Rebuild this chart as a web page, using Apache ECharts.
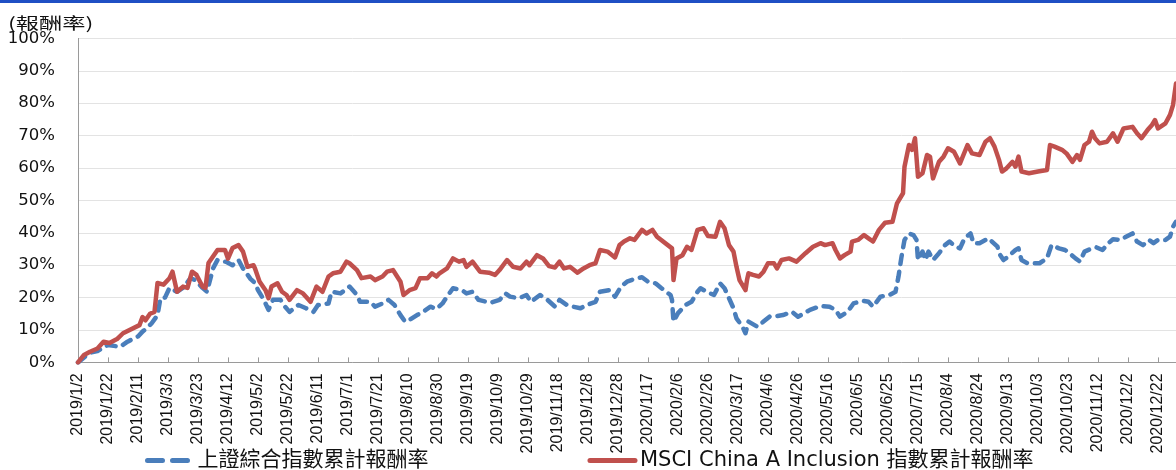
<!DOCTYPE html>
<html><head><meta charset="utf-8">
<script src="https://cdn.jsdelivr.net/npm/echarts@6/dist/echarts.min.js"></script>
<style>html,body{margin:0;padding:0;background:#fff}#c{width:1176px;height:470px}</style>
</head><body><div id="c"></div>
<script>
// x axis: calendar days from 2019/1/2 (labels every 20 days)
const startYear = 2019, startMonth = 0, startDay = 2, dayCount = 733;
const categories = [];
for (let i = 0; i < dayCount; i++) {
  const d = new Date(startYear, startMonth, startDay + i);
  categories.push(d.getFullYear() + '/' + (d.getMonth() + 1) + '/' + d.getDate());
}
const yTicks = [0,10,20,30,40,50,60,70,80,90,100];
const seriesNames = ['上證綜合指數累計報酬率', 'MSCI China A Inclusion 指數累計報酬率'];

// [category index (day offset), cumulative return %]
const sseSeries = [[0,0],[8,3.0],[13,3.5],[20,5.4],[28,4.8],[33,6.4],[40,8.0],[43,9.5],[46,10.6],[49,12],[53,14.6],[55,19.9],[58,20],[61,23],[66,21.8],[70,23],[75,26],[78,25.4],[83,23],[86,21.8],[90,29],[93,31.6],[99,31],[103,30],[107,31.6],[110,29],[115,25.8],[118,24.5],[120,22.3],[123,20],[125,18.2],[127,16.2],[130,19.3],[135,19.3],[138,17.2],[141,15.6],[147,17.7],[152,16.7],[157,15.6],[160,17.7],[167,18.2],[169,21.8],[175,21.3],[181,23.4],[186,20.8],[188,18.7],[195,18.7],[198,17.2],[203,18.2],[207,19.3],[211,17.7],[215,14.6],[218,12.6],[221,13.1],[226,14.6],[230,15.6],[235,17.2],[239,16.5],[243,18.2],[246,20.3],[250,22.9],[256,22.3],[259,21.3],[263,21.8],[267,19.3],[275,18.4],[281,19.3],[285,21.3],[288,20.3],[294,19.8],[299,20.8],[302,18.7],[308,20.8],[313,19.3],[318,17.2],[321,19.3],[326,17.7],[330,17.2],[335,16.7],[339,17.7],[345,18.7],[348,21.8],[354,22.3],[358,20.3],[362,23.4],[366,24.9],[370,25.6],[376,26.3],[380,24.9],[385,24.4],[389,22.9],[395,20.8],[396,19.3],[397,12.6],[400,15.2],[405,17.7],[409,18.7],[413,21.8],[415,22.9],[419,21.8],[424,20.8],[428,24.4],[431,22.9],[434,19.8],[437,16.7],[439,13.6],[443,11],[445,9],[447,12.6],[453,11],[457,12.6],[461,14.1],[466,14.3],[470,14.6],[476,15.6],[480,14.1],[488,16.2],[495,17.4],[501,17.2],[505,16.2],[508,14.1],[513,15.6],[517,18.2],[523,19],[527,18.7],[530,17.2],[535,20.3],[541,20.8],[545,21.8],[547,26.5],[549,32.6],[551,37.8],[554,39.8],[557,39.3],[559,37.8],[560,31.6],[563,34.2],[565,31.6],[567,34.2],[570,31.6],[574,33.7],[578,36.2],[581,37.3],[585,35.7],[588,35.2],[591,38.3],[595,39.8],[597,36.8],[601,36.8],[607,38.3],[613,35.7],[614,33.7],[617,31.6],[620,32.6],[625,34.7],[627,35.2],[629,31.6],[633,30.6],[641,30.6],[646,32.1],[649,36.2],[654,35.2],[658,34.7],[661,33.7],[665,32.1],[668,31.1],[671,34.2],[676,35.2],[679,35.5],[683,34.7],[687,36.8],[690,38],[695,37.8],[698,38.6],[703,39.8],[706,37.3],[710,36.2],[714,37.8],[717,36.8],[720,37.8],[725,37.8],[728,38.8],[730,41.9],[732,43.4]];

const msciSeries = [[0,0],[4,2.3],[8,3.3],[13,4.3],[17,6.4],[21,6.0],[26,7.2],[30,9.0],[41,11.5],[43,14],[45,13],[48,15],[51,15.6],[53,24.5],[57,24],[61,26],[63,28],[66,21.8],[70,23.4],[73,23],[76,28],[79,27],[83,23.4],[85,23],[87,30.7],[93,34.7],[98,34.7],[100,32],[103,35.3],[107,36.2],[110,34.2],[113,29.5],[117,30],[118,29],[121,25],[125,22.3],[127,19.8],[129,23.4],[133,24.4],[136,21.8],[139,20.8],[141,19.3],[146,22.3],[150,21.3],[155,18.7],[159,23.4],[163,21.8],[167,26.5],[170,27.5],[175,28],[179,31.1],[181,30.6],[186,28.5],[189,26],[195,26.5],[198,25.4],[203,26.5],[206,28],[210,28.5],[215,24.9],[217,20.8],[221,22.3],[225,22.9],[228,26],[233,26],[236,27.5],[239,26.5],[241,27.5],[246,29],[250,32.1],[254,31.1],[257,31.6],[259,29.5],[263,31.1],[268,28],[274,27.7],[278,27],[281,28.5],[286,31.6],[290,29.5],[295,29],[299,31.1],[301,30],[306,33.1],[310,32.1],[314,29.7],[318,29.3],[321,31.1],[324,29],[328,29.5],[333,27.7],[337,29],[341,30],[345,30.6],[348,34.7],[353,34.2],[358,32.4],[361,36.2],[364,37.3],[368,38.3],[371,37.8],[376,40.9],[379,39.8],[383,40.9],[386,38.8],[396,35.2],[397,25.4],[399,32.1],[403,33.1],[406,35.7],[409,34.7],[413,40.9],[417,41.4],[420,39],[425,38.8],[428,43.4],[431,41.4],[434,36.2],[437,34.2],[439,29.5],[441,25.4],[445,22.3],[446,25.4],[447,27.5],[450,27],[454,26.5],[457,28],[460,30.6],[464,30.6],[466,29],[469,31.6],[474,32.1],[479,31.1],[485,33.7],[490,35.7],[495,36.8],[498,36.2],[503,36.8],[505,34.7],[508,32.1],[511,33.1],[515,34.2],[516,37.3],[520,37.8],[524,39.3],[527,38.3],[530,37.3],[534,40.9],[538,43.1],[543,43.4],[546,49.1],[550,52.2],[551,60.4],[554,67.1],[556,65.6],[558,69.2],[560,57.3],[563,58.4],[566,64],[568,63.5],[570,56.8],[574,61.9],[577,63.5],[580,66.1],[584,65],[588,61.4],[593,67.1],[596,64.5],[601,64],[605,68.1],[608,69.2],[611,66.6],[614,62.5],[616,58.9],[619,59.9],[623,61.9],[625,60.4],[627,63.5],[629,58.9],[634,58.4],[640,58.9],[646,59.4],[648,67.1],[651,66.6],[656,65.6],[659,64.5],[663,61.9],[666,64],[668,62.5],[671,67.1],[674,68.1],[676,71.2],[678,69.2],[681,67.6],[686,68.1],[690,70.7],[693,68.1],[697,72.2],[703,72.7],[706,70.7],[709,69.2],[713,71.7],[716,73.3],[718,74.8],[720,72.2],[725,73.8],[728,76.4],[730,79.4],[732,86.1]];

const chart = echarts.init(document.getElementById('c'), null, {renderer: 'canvas'});
chart.setOption({
  animation: false,
  backgroundColor: '#fff',
  graphic: [
    {type: 'rect', x: 0, y: 0, shape: {x: 0, y: 0, width: 1176, height: 3}, style: {fill: '#1f4fc4'}},
    {type: 'text', x: 8, y: 15, scaleX: 1.45, style: {text: '(報酬率)', font: '16px "Noto Sans CJK TC"', fill: '#111', align: 'left', verticalAlign: 'top'}}
  ],
  grid: {left: 78, right: 0, top: 38.4, bottom: 107.6},
  legend: {
    left: 145, top: 450, itemGap: 159, itemWidth: 45, itemHeight: 14, padding: 0,
    itemStyle: {opacity: 0},
    textStyle: {fontSize: 21, fontFamily: '"DejaVu Sans", "Noto Sans CJK TC"', color: '#111'},
    data: [
      {name: seriesNames[0], lineStyle: {type: [15, 10], width: 5}},
      {name: seriesNames[1], lineStyle: {width: 5}}
    ]
  },
  xAxis: {
    type: 'category', data: categories, boundaryGap: false,
    axisLine: {lineStyle: {color: '#9a9a9a'}},
    axisTick: {interval: 19, inside: true, length: 5, lineStyle: {color: '#9a9a9a'}},
    axisLabel: {interval: 19, rotate: 90, fontSize: 16, fontFamily: '"Liberation Sans"', color: '#111', margin: 11},
    splitLine: {show: false}
  },
  yAxis: {
    type: 'value', min: yTicks[0], max: yTicks[yTicks.length - 1], interval: 10,
    axisLine: {show: true, lineStyle: {color: '#9a9a9a'}},
    axisTick: {show: false},
    axisLabel: {formatter: '{value}%', fontSize: 16.5, fontFamily: '"DejaVu Sans"', color: '#111', margin: 23},
    splitLine: {lineStyle: {color: '#e3e3e3'}}
  },
  series: [
    {name: seriesNames[0], type: 'line', data: sseSeries, symbol: 'none', showSymbol: false, z: 2,
     itemStyle: {color: '#4a7ebb'},
     lineStyle: {color: '#4a7ebb', width: 4.5, type: [9, 8], cap: 'round', join: 'round'}},
    {name: seriesNames[1], type: 'line', data: msciSeries, symbol: 'none', showSymbol: false, z: 3,
     itemStyle: {color: '#c0504d'},
     lineStyle: {color: '#c0504d', width: 4.5, cap: 'round', join: 'round'}}
  ]
});
</script></body></html>
